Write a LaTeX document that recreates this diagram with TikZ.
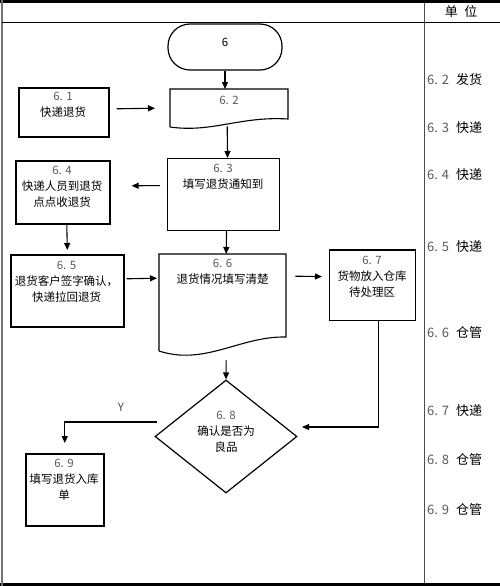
\documentclass[tikz,border=0pt]{standalone}
\usepackage{fontspec}
\setmainfont{Noto Sans CJK SC}
\usetikzlibrary{shapes.geometric,arrows.meta,calc}
\begin{document}
\begin{tikzpicture}[x=1pt,y=-1pt,
  box/.style={draw, line width=1.6pt, inner sep=0, anchor=north west},
  thinbox/.style={draw, line width=1.1pt, inner sep=0, anchor=north west},
  anchorbox/.style={inner sep=0, anchor=north west},
  txt/.style={align=center, font=\fontsize{11.5}{16}\selectfont, inner sep=0},
  arr/.style={-{Triangle[length=7pt,width=6pt]}, line width=1.1pt},
  unitnum/.style={anchor=west, text=black!65, font=\fontsize{13}{15}\selectfont, inner sep=0},
  unittxt/.style={anchor=west, font=\fontsize{13}{15}\selectfont, inner sep=0},
]
\useasboundingbox (0,0) rectangle (500,586);
% frame
\draw[line width=3pt] (0,1.5) -- (500,1.5);
\draw[line width=3pt] (0,584.5) -- (500,584.5);
\draw[black!55, line width=1.2pt] (2,0) -- (2,586);
\draw[line width=0.8pt] (2,22) -- (500,22);
\draw[black!70, line width=0.9pt] (424,3) -- (424,583);
\node[unittxt, anchor=center] (hdr) at (461,12) {单\hspace{0.5em}位};

% start terminal
\node[draw, line width=1.2pt, rounded corners=22pt, minimum width=114pt, minimum height=46pt, inner sep=0] (start) at (225,47) {};
\node[txt] (t6) at (225,42) {6};

% 6.1
\node[box, minimum width=90pt, minimum height=49pt] (n61) at (18,87) {};
\node[txt] (t61) at (63,104.5) {{\color{black!65}6. 1}\\快递退货};

% 6.2 document
\node[anchorbox, minimum width=118pt, minimum height=37pt] (n62) at (170,89) {};
\draw[line width=1.1pt] (170,127) -- (170,89) -- (288,89) -- (288,119)
  .. controls (240,116) and (212,133) .. (170,127);
\node[txt] (t62) at (229,100) {{\color{black!65}6. 2}};

% 6.3
\node[thinbox, minimum width=112pt, minimum height=72pt] (n63) at (167,158) {};
\node[txt] (t63) at (223,177) {{\color{black!65}6. 3}\\填写退货通知到};

% 6.4
\node[box, minimum width=94pt, minimum height=63pt] (n64) at (15,160) {};
\node[txt] (t64) at (62,186.5) {{\color{black!65}6. 4}\\快递人员到退货\\点点收退货};

% 6.5
\node[box, minimum width=113pt, minimum height=72pt] (n65) at (10,254) {};
\node[txt] (t65) at (66.5,281.5) {{\color{black!65}6. 5}\\退货客户签字确认，\\快递拉回退货};

% 6.6 document
\node[anchorbox, minimum width=127pt, minimum height=90pt] (n66) at (159,254) {};
\draw[line width=1.1pt] (159,351) -- (159,254) -- (286,254) -- (286,337)
  .. controls (240,336) and (205,366) .. (159,351);
\node[txt] (t66) at (222.5,271.5) {{\color{black!65}6. 6}\\退货情况填写清楚};

% 6.7
\node[thinbox, minimum width=86pt, minimum height=70pt] (n67) at (329,250) {};
\draw[line width=2pt] (n67.north west) -- (n67.north east);
\node[txt] (t67) at (372,277) {{\color{black!65}6. 7}\\货物放入仓库\\待处理区};

% 6.8 diamond
\node[draw, diamond, line width=1.2pt, minimum width=142pt, minimum height=113pt, inner sep=0] (d) at (226,436.5) {};
\node[txt] (t68) at (226,432) {{\color{black!65}6. 8}\\确认是否为\\良品};

% 6.9
\node[box, minimum width=78pt, minimum height=72pt] (n69) at (25,453) {};
\node[txt] (t69) at (64,479.5) {{\color{black!65}6. 9}\\填写退货入库\\单};

% connectors
\draw[arr] (start.south) -- (start.south |- n62.north);
\draw[arr] ($(n61.east)+(7,-3.5)$) -- ($(n62.west)+(-15,0.5)$);
\draw[arr] ($(n62.south)+(-2,0)$) -- ($(n63.north)+(4,0)$);
\draw[arr] ($(n63.west)+(-7,-9)$) -- ($(n64.east)+(21,-6.5)$);
\draw[arr] ($(n64.south)+(4,0)$) -- ($(n65.north)+(0,-4)$);
\draw[arr] ($(n65.east)+(2,-12)$) -- ($(n66.west)+(-2,-21)$);
\draw[arr] ($(n63.south)+(3,0)$) -- ($(n66.north)+(3.5,0)$);
\draw[arr] ($(n66.east)+(9,-23)$) -- ($(n67.west)+(-7,-9)$);
\draw[arr] ($(n66.south)+(3.5,16)$) -- (d.north);
\coordinate (e1) at (302,427);
\draw[arr] ($(n67.south)+(6,0)$) |- (e1);
\coordinate (y0) at (157,422);
\draw[arr] (y0) -| ($(n69.north)+(0,-10)$);
\node[txt, text=black!70] (ylab) at (121,407) {Y};

% unit column
\node[unitnum] (u2n) at (427,80) {6. 2};
\node[unittxt] (u2t) at (456,80) {发货};
\node[unitnum] (u3n) at (427,128) {6. 3};
\node[unittxt] (u3t) at (456,128) {快递};
\node[unitnum] (u4n) at (427,175) {6. 4};
\node[unittxt] (u4t) at (456,175) {快递};
\node[unitnum] (u5n) at (427,247) {6. 5};
\node[unittxt] (u5t) at (456,247) {快递};
\node[unitnum] (u6n) at (427,333) {6. 6};
\node[unittxt] (u6t) at (456,333) {仓管};
\node[unitnum] (u7n) at (427,411) {6. 7};
\node[unittxt] (u7t) at (456,411) {快递};
\node[unitnum] (u8n) at (427,460) {6. 8};
\node[unittxt] (u8t) at (456,460) {仓管};
\node[unitnum] (u9n) at (427,510) {6. 9};
\node[unittxt] (u9t) at (456,510) {仓管};
\end{tikzpicture}
\end{document}
